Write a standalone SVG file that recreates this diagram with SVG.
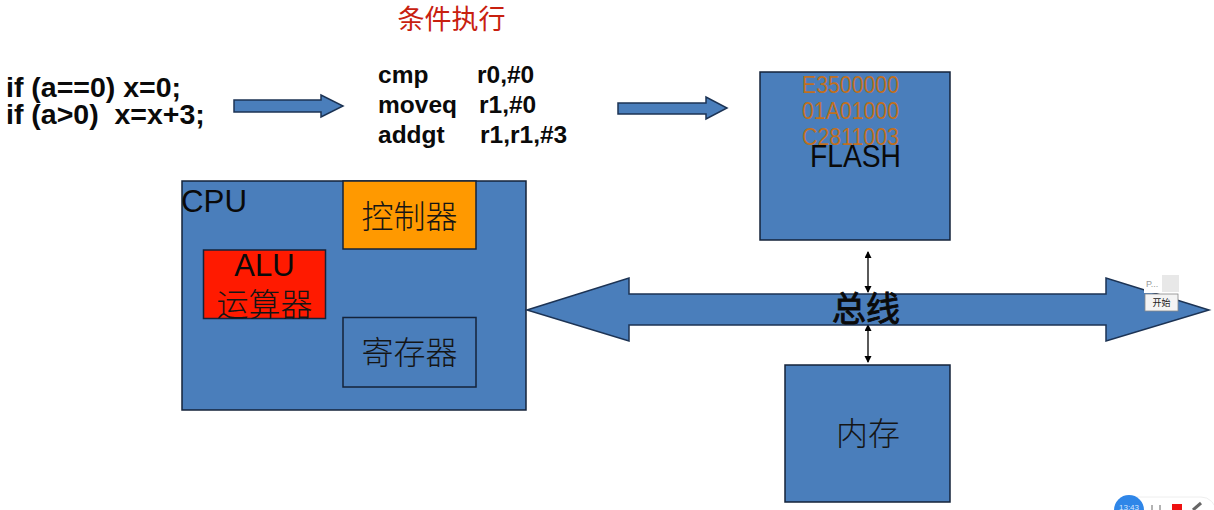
<svg xmlns="http://www.w3.org/2000/svg" width="1214" height="510" viewBox="0 0 1214 510">
<style>
.box{fill:#4a7ebb;stroke:#14233a;stroke-width:1.5}
.arr{fill:#4a7ebb;stroke:#1c3354;stroke-width:1.5}
.s{font-family:"Liberation Sans",Arial,sans-serif;fill:#0a0a0a}
.b{font-weight:bold;font-size:28.5px}
.m{font-weight:bold;font-size:24.5px}
.h{font-size:31px}
.hex{font-family:"Liberation Sans",Arial,sans-serif;font-size:23px;fill:#c0701f}
.c{font-family:"Noto Sans CJK SC",sans-serif;font-size:32px;fill:#151515;font-weight:300}
.ln{stroke:#000;stroke-width:1.3;fill:none;marker-start:url(#a);marker-end:url(#a)}
</style>
<defs>
<marker id="a" markerWidth="8" markerHeight="8" refX="6" refY="3.5" orient="auto-start-reverse" markerUnits="userSpaceOnUse"><path d="M0 0L7 3.5L0 7z" fill="#000"/></marker>
</defs>
<rect width="1214" height="510" fill="#fff"/>
<text x="451.500" y="29" text-anchor="middle" font-family="'Noto Sans CJK SC',sans-serif" font-size="27" fill="#c8200f">条件执行</text>
<g id="source">
<text class="s b" x="6" y="97">if (a==0) x=0;</text>
<text class="s b" x="6" y="124" xml:space="preserve">if (a&gt;0)  x=x+3;</text>
</g>
<g id="assembly">
<text class="s m" x="378" y="83">cmp</text><text class="s m" x="477" y="83">r0,#0</text>
<text class="s m" x="378" y="113">moveq</text><text class="s m" x="479" y="113">r1,#0</text>
<text class="s m" x="378" y="143">addgt</text><text class="s m" x="480" y="143">r1,r1,#3</text>
</g>
<g id="connectors">
<path class="arr" d="M234 100H321V95L343 106L321 117V112H234Z"/>
<path class="arr" d="M618 103H706V97L727 108L706 119V114H618Z"/>
<line class="ln" x1="868" y1="252" x2="868" y2="292"/>
<line class="ln" x1="868" y1="325" x2="868" y2="362"/>
</g>
<g id="flash">
<rect class="box" x="760" y="72" width="190" height="168"/>
<text class="hex" x="802" y="93" textLength="97" lengthAdjust="spacingAndGlyphs">E3500000</text>
<text class="hex" x="802" y="119" textLength="97" lengthAdjust="spacingAndGlyphs">01A01000</text>
<text class="hex" x="802" y="145" textLength="97" lengthAdjust="spacingAndGlyphs">C2811003</text>
<text class="s h" x="810" y="167" textLength="91" lengthAdjust="spacingAndGlyphs">FLASH</text>
</g>
<g id="cpu">
<rect class="box" x="182" y="181" width="344" height="229"/>
<text class="s h" x="181" y="212" textLength="66" lengthAdjust="spacingAndGlyphs">CPU</text>
</g>
<g id="controller">
<rect x="343" y="181" width="133" height="68" fill="#ff9900" stroke="#14233a" stroke-width="1.5"/>
<text class="c" x="409.500" y="228" text-anchor="middle" font-size="31">控制器</text>
</g>
<g id="alu">
<rect x="203.500" y="250" width="122" height="68.500" fill="#ff1a00" stroke="#14233a" stroke-width="1.5"/>
<text class="s h" x="264.500" y="276" text-anchor="middle">ALU</text>
<text class="c" x="264.500" y="316" text-anchor="middle">运算器</text>
</g>
<g id="register">
<rect class="box" x="343" y="317.500" width="133" height="69.500"/>
<text class="c" x="409.500" y="364" text-anchor="middle">寄存器</text>
</g>
<g id="bus">
<path class="arr" d="M527 310L629 278V294H1106V278L1209 310L1106 341V325H629V341Z"/>
<text x="866" y="321" text-anchor="middle" font-family="'Noto Sans CJK SC',sans-serif" font-size="34" font-weight="400" stroke="#0a0a0a" stroke-width="0.9" fill="#0a0a0a">总线</text>
</g>
<g id="memory">
<rect class="box" x="785" y="365" width="165" height="137"/>
<text class="c" x="868" y="445" text-anchor="middle">内存</text>
</g>
<g id="popup">
<rect x="1144" y="273" width="36" height="20" fill="#fff"/>
<rect x="1162" y="275" width="17" height="17" fill="#e8e8e8"/>
<text x="1146" y="287" font-family="'Liberation Sans',sans-serif" font-size="9" fill="#999">P...</text>
<rect x="1145" y="294" width="33" height="17" fill="#f4f4f4" stroke="#888" stroke-width="0.8"/>
<text x="1161.500" y="306" text-anchor="middle" font-family="'Noto Sans CJK SC',sans-serif" font-size="9" fill="#222">开始</text>
</g>
<g id="toolbar">
<rect x="1118" y="497" width="98" height="30" rx="15" fill="#fff" stroke="#eeeeee"/>
<circle cx="1129" cy="510" r="15" fill="#2f86e8"/>
<text x="1129" y="510" text-anchor="middle" font-family="'Liberation Sans',sans-serif" font-size="8" fill="#d8e8ff">13:43</text>
<path d="M1152 505V510M1160 505V510" stroke="#666" stroke-width="1"/>
<rect x="1172" y="504" width="10" height="6" fill="#ee1111"/>
<path d="M1193 510L1201 503" stroke="#666" stroke-width="3"/>
</g>
</svg>
